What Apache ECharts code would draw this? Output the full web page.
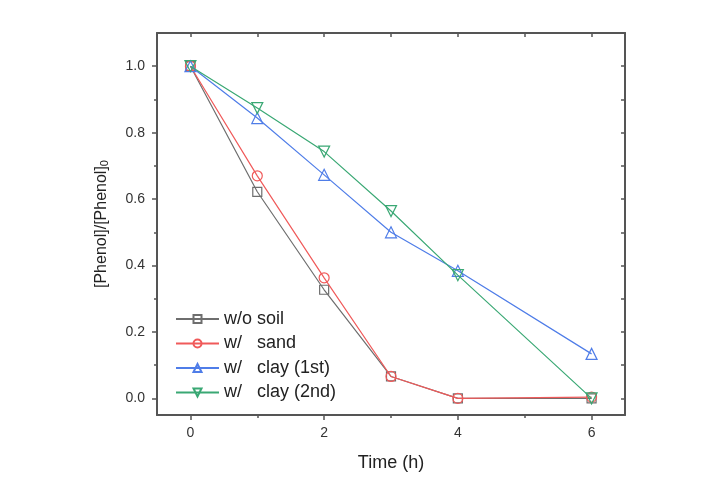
<!DOCTYPE html>
<html><head><meta charset="utf-8">
<script src="https://cdn.jsdelivr.net/npm/echarts@6/dist/echarts.min.js"></script>
<style>html,body{margin:0;padding:0;background:#fff}#c{width:705px;height:485px}</style>
</head><body><div id="c"></div>
<script>
const times = [0, 1, 2, 3, 4, 6];
const seriesNames = ['w/o soil', 'w/   sand', 'w/   clay (1st)', 'w/   clay (2nd)'];
const woSoil = [1.0, 0.622, 0.327, 0.066, 0.0, 0.0];
const wSand = [1.0, 0.670, 0.363, 0.066, 0.0, 0.004];
const wClay1 = [1.0, 0.844, 0.673, 0.500, 0.384, 0.134];
const wClay2 = [1.0, 0.874, 0.743, 0.564, 0.371, 0.0];
const xMajor = [0, 2, 4, 6];
const xMinor = [1, 3, 5];
const yMajor = [0, 0.2, 0.4, 0.6, 0.8, 1.0];
const yMinor = [0.1, 0.3, 0.5, 0.7, 0.9];

const colors = ['#6e6e6e', '#f05a5a', '#4f7de8', '#3aa874'];
const symbols = ['rect', 'circle', 'triangle', 'triangle'];
const sizes = [9, 10, 11, 11];
const rots = [0, 0, 0, 180];
const values = [woSoil, wSand, wClay1, wClay2];

const axisColor = '#555';
const font = 'Liberation Sans, Arial, sans-serif';
const xr = {min: -0.5, max: 6.5, type: 'value'};
const yr = {min: -0.05, max: 1.1, type: 'value'};

const chart = echarts.init(document.getElementById('c'));
chart.setOption({
  animation: false,
  grid: {left: 157, right: 80, top: 33, bottom: 70},
  legend: {
    left: 170, top: 305, orient: 'vertical', itemWidth: 43, itemHeight: 10, itemGap: 6.5,
    textStyle: {fontSize: 18, fontFamily: font, color: '#222'},
    data: seriesNames
  },
  xAxis: [
    Object.assign({}, xr, {position: 'bottom', name: 'Time (h)', nameLocation: 'middle', nameGap: 39,
      nameTextStyle: {fontSize: 18, fontFamily: font, color: '#222'},
      axisLine: {show: true, onZero: false, lineStyle: {color: axisColor, width: 2}},
      axisTick: {show: true, inside: false, length: 5, customValues: xMajor, lineStyle: {color: axisColor, width: 1.5}},
      axisLabel: {customValues: xMajor, margin: 11, fontSize: 14, fontFamily: font, color: '#333'},
      splitLine: {show: false}}),
    Object.assign({}, xr, {position: 'bottom',
      axisLine: {show: false, onZero: false},
      axisTick: {show: true, inside: false, length: 3, customValues: xMinor, lineStyle: {color: axisColor, width: 1.5}},
      axisLabel: {show: false}, splitLine: {show: false}}),
    Object.assign({}, xr, {position: 'top',
      axisLine: {show: true, onZero: false, lineStyle: {color: axisColor, width: 2}},
      axisTick: {show: true, inside: true, length: 4, customValues: xMajor.concat(xMinor), lineStyle: {color: axisColor, width: 1.5}},
      axisLabel: {show: false}, splitLine: {show: false}})
  ],
  yAxis: [
    Object.assign({}, yr, {position: 'left', name: '[Phenol]/[Phenol]{sub|0}', nameLocation: 'middle', nameGap: 47,
      nameTextStyle: {fontSize: 16, fontFamily: font, color: '#222', rich: {sub: {fontSize: 11, fontFamily: font, color: '#222', verticalAlign: 'bottom', padding: [6, 0, 0, 0]}}},
      axisLine: {show: true, onZero: false, lineStyle: {color: axisColor, width: 2}},
      axisTick: {show: true, inside: false, length: 5, customValues: yMajor, lineStyle: {color: axisColor, width: 1.5}},
      axisLabel: {customValues: yMajor, margin: 12, fontSize: 14, fontFamily: font, color: '#333', formatter: v => v.toFixed(1)},
      splitLine: {show: false}}),
    Object.assign({}, yr, {position: 'left',
      axisLine: {show: false, onZero: false},
      axisTick: {show: true, inside: false, length: 3, customValues: yMinor, lineStyle: {color: axisColor, width: 1.5}},
      axisLabel: {show: false}, splitLine: {show: false}}),
    Object.assign({}, yr, {position: 'right',
      axisLine: {show: true, onZero: false, lineStyle: {color: axisColor, width: 2}},
      axisTick: {show: true, inside: true, length: 4, customValues: yMajor.concat(yMinor), lineStyle: {color: axisColor, width: 1.5}},
      axisLabel: {show: false}, splitLine: {show: false}})
  ],
  series: seriesNames.map((n, i) => ({
    name: n, type: 'line', xAxisIndex: 0, yAxisIndex: 0,
    data: times.map((t, k) => [t, values[i][k]]),
    symbol: symbols[i], symbolSize: sizes[i], symbolRotate: rots[i], showAllSymbol: true,
    lineStyle: {color: colors[i], width: 1.2},
    itemStyle: {color: 'rgba(255,255,255,0)', borderColor: colors[i], borderWidth: 1.2},
    color: colors[i],
    z: 2 + i
  }))
});
</script></body></html>
